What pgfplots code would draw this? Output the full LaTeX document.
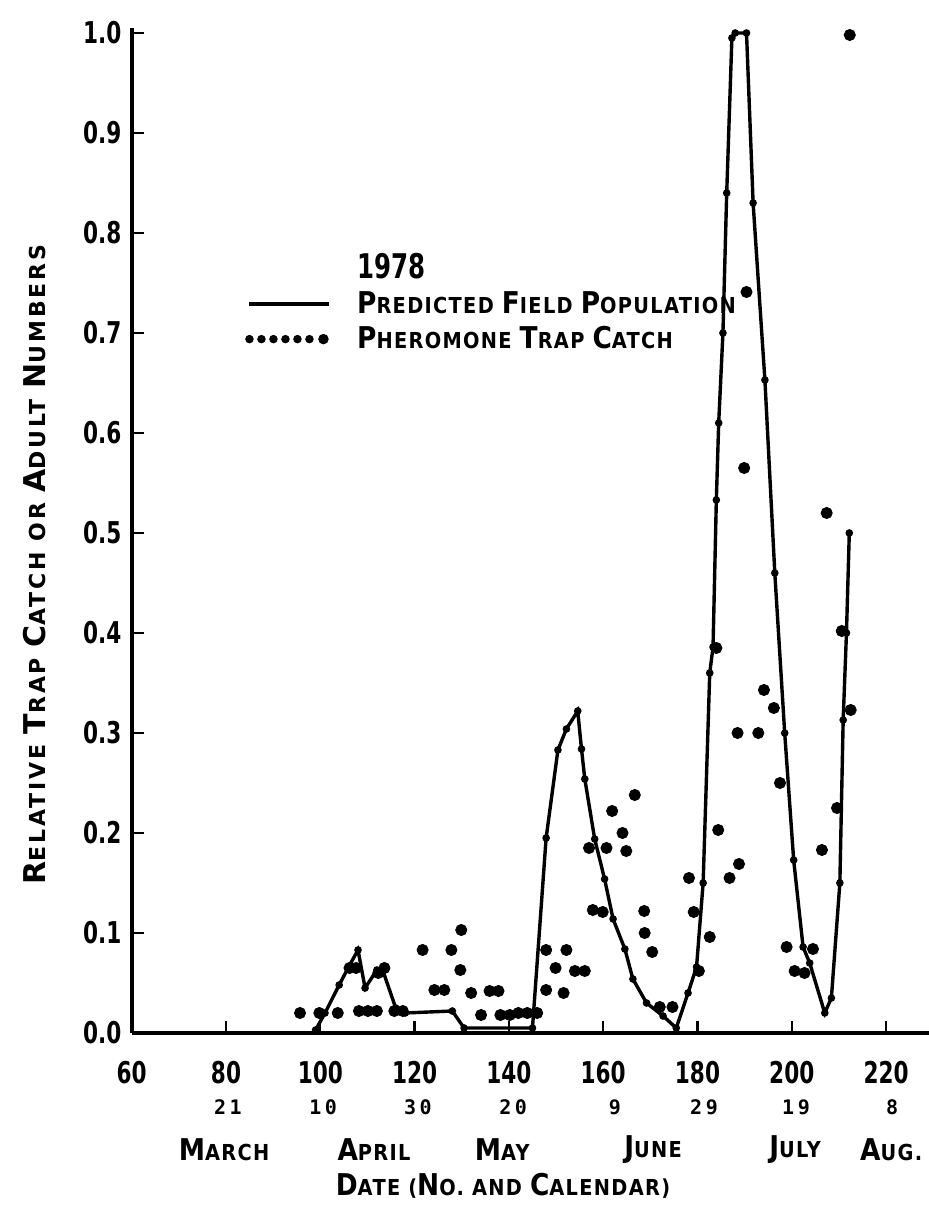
\documentclass[border=0pt]{standalone}
\usepackage{fontspec}
\usepackage{pgfplots}
\usepackage{pgfplotstable}
\pgfplotsset{compat=1.18}
\setmainfont{DejaVu Sans}
\newfontfamily\labfont[LetterSpace=6, FakeStretch=0.88]{DejaVu Sans}
\newfontfamily\ylabfont[LetterSpace=13]{DejaVu Sans}
\newfontfamily\tickfam[FakeStretch=0.72]{DejaVu Sans}
\newfontfamily\dayfam[LetterSpace=18]{DejaVu Sans Mono}
\newcommand{\tf}{\tickfam\bfseries\fontsize{15pt}{15pt}\selectfont}
\newcommand{\lf}{\labfont\bfseries\fontsize{11pt}{13pt}\selectfont}
\newcommand{\yf}{\ylabfont\bfseries\fontsize{11pt}{13pt}\selectfont}
\newcommand{\df}{\dayfam\bfseries\fontsize{10pt}{10pt}\selectfont}
\newcommand{\B}[1]{{\fontsize{15pt}{15pt}\selectfont #1}}
\newcommand{\BY}[1]{{\fontsize{15pt}{15pt}\selectfont #1}}

\pgfplotstableread{
d v
99 0.003
101 0.02
104 0.048
106 0.066
108 0.083
109.5 0.045
112 0.063
113.3 0.062
116 0.025
118 0.02
128 0.022
130.5 0.005
145 0.005
147.9 0.195
150.4 0.283
152.2 0.304
154.6 0.322
155.4 0.284
156.1 0.254
158.2 0.194
160.3 0.154
162.1 0.114
164.6 0.084
166.3 0.054
169.2 0.030
172.7 0.017
175.5 0.005
178 0.040
179.8 0.066
181.2 0.150
182.6 0.360
183.3 0.386
184 0.533
184.5 0.610
185.4 0.700
186.2 0.840
187.3 0.995
188 1.000
190.4 1.000
191.8 0.830
194.3 0.653
196.4 0.460
198.5 0.300
200.4 0.173
202.4 0.086
203.8 0.070
207 0.020
208.4 0.035
210.2 0.150
210.9 0.313
211.6 0.400
212.2 0.500
}\predicted

\pgfplotstableread{
d v
95.7 0.020
99.8 0.020
103.7 0.020
106.2 0.065
107.6 0.065
108.2 0.022
110.1 0.022
112.0 0.022
112.3 0.060
113.6 0.065
115.7 0.022
117.5 0.022
121.7 0.083
124.2 0.043
126.3 0.043
127.8 0.083
129.9 0.103
129.7 0.063
132.0 0.040
134.1 0.018
135.9 0.042
137.8 0.042
138.2 0.018
140.2 0.018
142.0 0.020
143.9 0.020
146.0 0.020
147.9 0.083
147.9 0.043
149.9 0.065
151.6 0.040
152.2 0.083
154.0 0.062
156.1 0.062
157.0 0.185
157.8 0.123
159.9 0.121
160.7 0.185
161.9 0.222
164.1 0.200
164.9 0.182
166.7 0.238
168.7 0.122
168.8 0.100
170.4 0.081
172.0 0.026
174.7 0.026
178.2 0.155
179.2 0.121
180.3 0.062
182.6 0.096
184.0 0.385
184.4 0.203
186.8 0.155
188.5 0.300
188.8 0.169
189.9 0.565
190.4 0.741
192.9 0.300
194.1 0.343
196.2 0.325
197.5 0.250
198.9 0.086
200.6 0.062
202.7 0.060
204.5 0.084
206.4 0.183
207.4 0.520
209.6 0.225
210.6 0.402
212.5 0.323
212.3 0.998
}\trap

\begin{document}
\begin{tikzpicture}
\useasboundingbox (0,0) rectangle (464pt,607.5pt);
\begin{axis}[
  at={(65.85pt,91pt)}, anchor=south west,
  scale only axis, width=398.4pt, height=502.5pt,
  xmin=60, xmax=229, ymin=0, ymax=1.005,
  axis lines=left,
  axis line style={-, line width=2.2pt},
  tick align=inside,
  major tick length=6pt,
  tick style={line width=1.2pt, black},
  xtick={60,80,...,220},
  xticklabels={60,80,100,120,140,160,180,200,220},
  ytick={0,0.1,...,1.0},
  yticklabels={0.0,0.1,0.2,0.3,0.4,0.5,0.6,0.7,0.8,0.9,1.0},
  ticklabel style={font=\tf},
  xticklabel style={anchor=center, yshift=-20pt},
  yticklabel style={anchor=east, inner sep=0pt, xshift=-5pt},
  clip=false,
  xlabel={\B{D}ATE (\B{N}O. AND \B{C}ALENDAR)},
  xlabel style={font=\lf, at={(axis description cs:0.466,-0.152)}, anchor=center},
  ylabel={\BY{R}ELATIVE \BY{T}RAP \BY{C}ATCH OR \BY{A}DULT \BY{N}UMBERS},
  ylabel style={font=\yf, at={(axis description cs:-0.122,0.466)}, anchor=center},
  legend style={draw=none, fill=none, at={(axis cs:84,0.78)}, anchor=north west,
    inner sep=0pt, row sep=5pt, column sep=13pt,
    nodes={inner sep=0pt, anchor=west}, font=\lf},
  legend cell align=left,
]
\addlegendimage{empty legend}
\addlegendentry{{\tickfam\bfseries\fontsize{17pt}{17pt}\selectfont 1978}}
\addplot[black, line width=1.7pt, mark=*, mark size=1.0pt,
  legend image code/.code={\draw[line width=1.7pt] (0pt,0pt) -- (40pt,0pt);}]
  table[x=d, y=v] {\predicted};
\addlegendentry{\B{P}REDICTED \B{F}IELD \B{P}OPULATION}
\addplot[black, only marks, mark=*, mark size=2.8pt,
  legend image code/.code={\foreach \k in {0,...,5}{\fill (\k*6pt,0pt) circle (1.9pt);}\fill (37pt,0pt) circle (2.4pt);}]
  table[x=d, y=v] {\trap};
\addlegendentry{\B{P}HEROMONE \B{T}RAP \B{C}ATCH}

\node[font=\df] at (axis cs:80.4,0) [yshift=-37pt] {21};
\node[font=\df] at (axis cs:100.6,0) [yshift=-37pt] {10};
\node[font=\df] at (axis cs:120.7,0) [yshift=-37pt] {30};
\node[font=\df] at (axis cs:140.9,0) [yshift=-37pt] {20};
\node[font=\df] at (axis cs:162.5,0) [yshift=-37pt] {9};
\node[font=\df] at (axis cs:181.4,0) [yshift=-37pt] {29};
\node[font=\df] at (axis cs:200.9,0) [yshift=-37pt] {19};
\node[font=\df] at (axis cs:221.3,0) [yshift=-37pt] {8};

\node[font=\lf] at (axis cs:79.6,0) [yshift=-58.5pt] {\B{M}ARCH};
\node[font=\lf] at (axis cs:111.4,0) [yshift=-58.5pt] {\B{A}PRIL};
\node[font=\lf] at (axis cs:138.6,0) [yshift=-58.5pt] {\B{M}AY};
\node[font=\lf] at (axis cs:170.6,0) [yshift=-58.5pt] {\B{J}UNE};
\node[font=\lf] at (axis cs:200.7,0) [yshift=-58.5pt] {\B{J}ULY};
\node[font=\lf] at (axis cs:221.1,0) [yshift=-58.5pt] {\B{A}UG.};
\end{axis}
\end{tikzpicture}
\end{document}
